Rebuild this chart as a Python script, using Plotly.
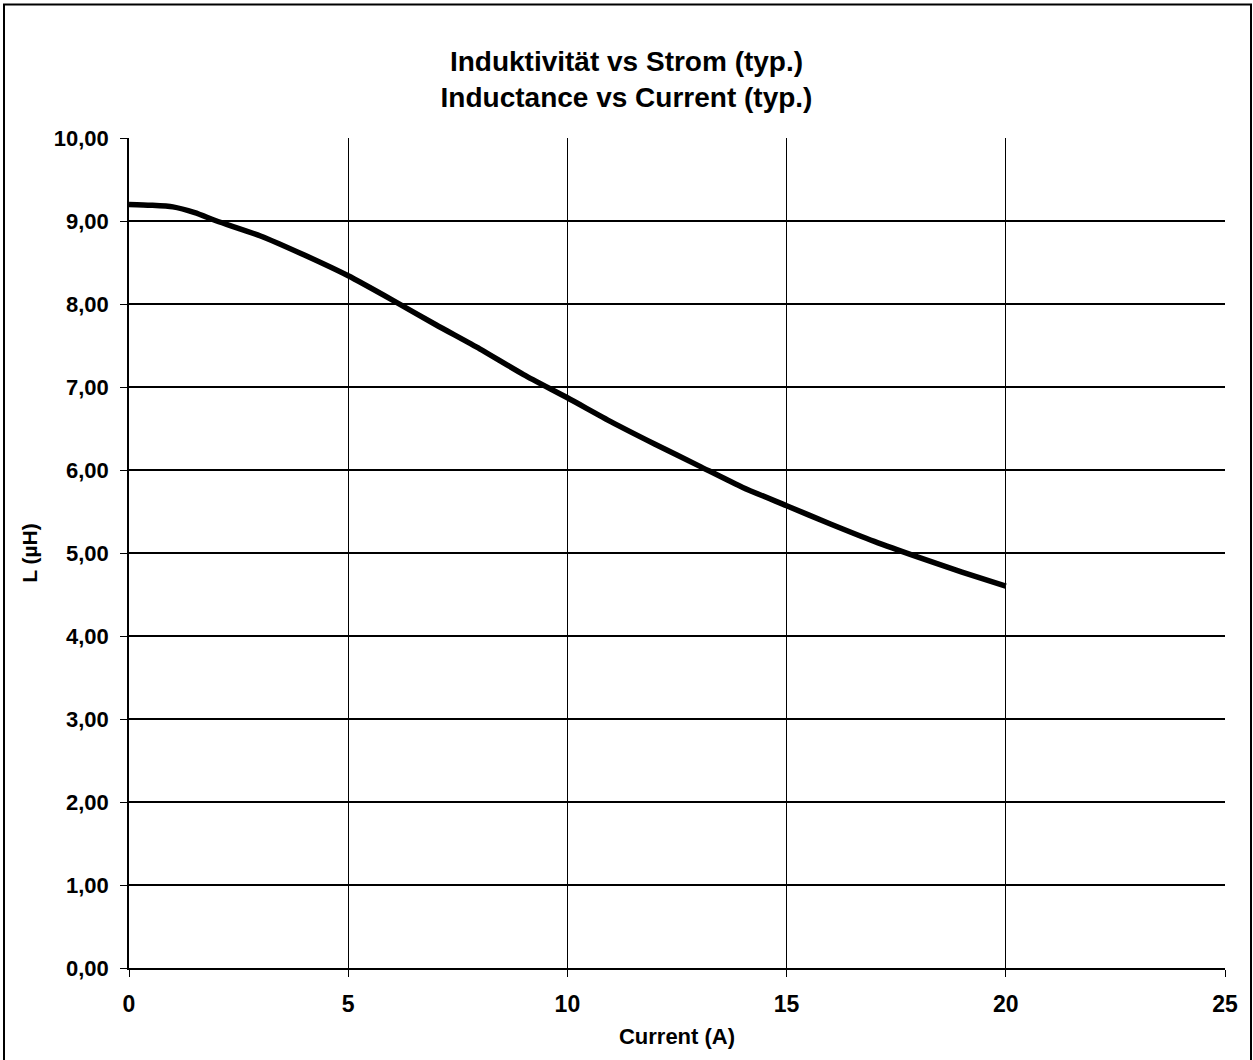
import plotly.graph_objects as go

current_a = [0, 0.5, 1, 1.5, 2, 3, 4, 5, 6, 7, 8, 9, 10, 11, 12, 13, 14, 15, 16, 17, 18, 19, 20]
inductance_uh = [9.20, 9.19, 9.17, 9.10, 9.00, 8.82, 8.59, 8.34, 8.05, 7.75, 7.46, 7.15, 6.87, 6.58, 6.31, 6.05, 5.79, 5.57, 5.35, 5.14, 4.95, 4.77, 4.60]

x_ticks = [0, 5, 10, 15, 20, 25]
y_ticks = [0, 1, 2, 3, 4, 5, 6, 7, 8, 9, 10]

W, H = 1253, 1060
ML, MR, MT, MB = 129, 28, 138, 92
pw, ph = W - ML - MR, H - MT - MB

font = "Liberation Sans, Arial, sans-serif"

fig = go.Figure()
fig.add_trace(go.Scatter(
    x=current_a, y=inductance_uh, mode="lines",
    line=dict(color="black", width=5.5, shape="spline", smoothing=0.6),
    showlegend=False, hoverinfo="x+y",
))

fig.update_layout(
    width=W, height=H,
    margin=dict(l=ML, r=MR, t=MT, b=MB),
    paper_bgcolor="white", plot_bgcolor="white",
    separators=",.",
    font=dict(family=font, color="black"),
    title=dict(
        text="<b>Induktivität vs Strom (typ.)<br>Inductance vs Current (typ.)</b>",
        x=0.5, xref="container", xanchor="center",
        yref="container", y=1 - 71 / H, yanchor="middle",
        font=dict(size=28, family=font, color="black"),
    ),
    xaxis=dict(
        range=[0, 25], tickvals=x_ticks, ticktext=[f"<b>{v}</b>" for v in x_ticks],
        showgrid=True, gridcolor="black", gridwidth=1,
        showline=True, linecolor="black", linewidth=1.5,
        ticks="outside", ticklen=7, tickcolor="black",
        ticklabelstandoff=8,
        tickfont=dict(size=23, family=font, color="black"),
        title=dict(text="<b>Current (A)</b>", font=dict(size=22, family=font, color="black"), standoff=12),
        zeroline=False, fixedrange=True,
    ),
    yaxis=dict(
        range=[0, 10], tickvals=y_ticks,
        ticktext=[f"<b>{v:.2f}</b>".replace(".", ",") for v in y_ticks],
        showgrid=True, gridcolor="black", gridwidth=1.6,
        showline=True, linecolor="black", linewidth=1.5,
        ticks="outside", ticklen=7, tickcolor="black",
        ticklabelstandoff=7,
        tickfont=dict(size=22, family=font, color="black"),
        title=dict(text="<b>L (µH)</b>", font=dict(size=21, family=font, color="black"), standoff=10),
        zeroline=False, fixedrange=True,
    ),
    shapes=[dict(
        type="rect", xref="paper", yref="paper",
        x0=(4 - ML) / pw, x1=(1251 - ML) / pw,
        y0=-(MB + 6) / ph, y1=1 + (MT - 4.5) / ph,
        line=dict(color="black", width=2), fillcolor="rgba(0,0,0,0)", layer="below",
    )],
)

fig.write_html(
    "out.html",
    config={"displayModeBar": False},
    post_script="document.body.style.margin='0';document.body.style.padding='0';",
)
